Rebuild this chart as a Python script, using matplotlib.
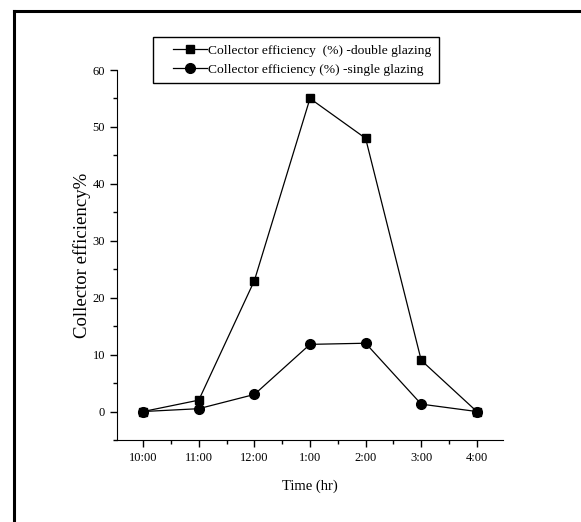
import matplotlib.pyplot as plt
from matplotlib.lines import Line2D
from matplotlib.legend_handler import HandlerLine2D
from matplotlib.ticker import MultipleLocator

plt.rcParams['font.family'] = ['Liberation Serif', 'DejaVu Serif']

times = ["10:00", "11:00", "12:00", "1:00", "2:00", "3:00", "4:00"]
double_glazing = [0, 2, 23, 55, 48, 9, 0]
single_glazing = [0, 0.5, 3, 11.8, 12, 1.3, 0]

fig = plt.figure(figsize=(5.81, 5.22), dpi=100)
ax = fig.add_axes([0.2014, 0.1571, 0.6643, 0.7088])

x = range(len(times))
l1, = ax.plot(x, double_glazing, color='black', lw=0.9, marker='s', ms=6,
              label='Collector efficiency  (%) -double glazing')
l2, = ax.plot(x, single_glazing, color='black', lw=0.9, marker='o', ms=7,
              label='Collector efficiency (%) -single glazing')

ax.set_xlim(-0.47, 6.47)
ax.set_ylim(-5, 60)
ax.set_xticks(list(x))
ax.set_xticklabels(times)
ax.xaxis.set_minor_locator(MultipleLocator(0.5))
ax.yaxis.set_major_locator(MultipleLocator(10))
ax.yaxis.set_minor_locator(MultipleLocator(5))
ax.tick_params(which='major', direction='out', length=5, width=1, labelsize=9)
ax.tick_params(which='minor', direction='out', length=3, width=1)

for side in ['top', 'right']:
    ax.spines[side].set_visible(False)

ax.set_xlabel('Time (hr)', fontsize=10.5, labelpad=11)
ax.set_ylabel('Collector efficiency%', fontsize=13.5, labelpad=1)

fig.legend(handles=[l1, l2], loc='upper left', bbox_to_anchor=(153 / 581, 1 - 37 / 522),
           borderaxespad=0, frameon=True, fancybox=False, edgecolor='black',
           framealpha=1, fontsize=9.7, handlelength=3.46, borderpad=0.55,
           labelspacing=0.47, handletextpad=0.07,
           handler_map={Line2D: HandlerLine2D(xpad=0.93)})

# frame around the figure (top and left edges)
fig.add_artist(Line2D([14 / 581, 1], [1 - 11 / 522] * 2, color='black', lw=2.2,
                      transform=fig.transFigure))
fig.add_artist(Line2D([14 / 581] * 2, [0, 1 - 11 / 522], color='black', lw=2.2,
                      transform=fig.transFigure))

fig.savefig('out.png', dpi=100)
